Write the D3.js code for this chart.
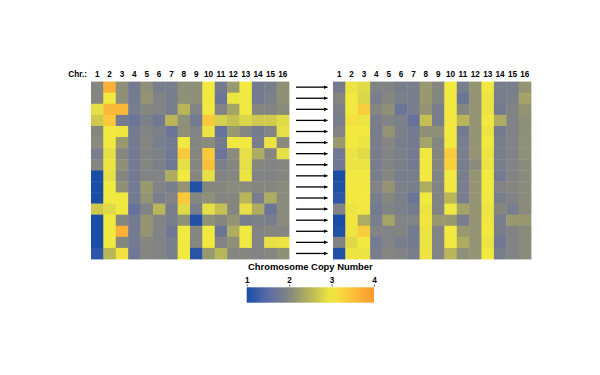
<html>
  <head>
    <style>
      body {
        margin: 0;
        background: white;
        font-family: "Liberation Sans", Arial, Helvetica, sans-serif;
      }
      svg {
        display: block;
      }
    </style>
    <script src="https://cdn.jsdelivr.net/npm/d3@7"></script>
  </head>

  <body>
    <svg id="chart"></svg>
  </body>
  <script>
    // chromosome labels along the top of both panels
    let chromosomes = ["1", "2", "3", "4", "5", "6", "7", "8", "9", "10", "11", "12", "13", "14", "15", "16"];

    // copy number per clone (row) and chromosome (column), left panel
    let beforeCN = [
      [2.0, 3.7, 2.1, 1.8, 2.1, 1.85, 1.85, 2.1, 2.1, 3.0, 1.8, 2.2, 3.0, 1.8, 1.85, 2.1],
      [2.0, 3.0, 2.1, 1.8, 2.15, 1.95, 1.85, 2.1, 2.1, 3.0, 1.7, 2.95, 3.0, 1.8, 1.9, 2.1],
      [2.9, 3.6, 3.6, 1.85, 2.0, 1.95, 1.85, 2.5, 1.95, 3.0, 1.95, 2.3, 3.0, 2.0, 1.95, 2.05],
      [2.7, 3.4, 1.8, 1.7, 1.9, 1.75, 2.5, 2.1, 1.8, 3.4, 2.75, 2.6, 2.8, 2.7, 2.7, 2.85],
      [2.0, 3.0, 3.05, 1.8, 1.95, 1.9, 1.7, 2.1, 1.95, 2.95, 1.65, 2.2, 2.0, 1.8, 1.95, 2.9],
      [2.05, 3.0, 2.2, 1.8, 2.0, 1.85, 1.8, 3.0, 2.0, 2.05, 1.8, 3.0, 3.0, 1.85, 2.95, 2.05],
      [1.85, 2.9, 2.0, 1.8, 1.95, 1.9, 1.75, 3.4, 2.0, 3.4, 1.7, 2.05, 2.9, 2.4, 2.0, 2.9],
      [2.0, 2.95, 2.1, 1.8, 2.0, 1.9, 1.75, 2.9, 2.0, 3.5, 1.9, 2.0, 2.9, 2.0, 1.95, 2.0],
      [1.0, 2.9, 2.0, 1.8, 1.95, 1.95, 2.4, 3.0, 2.0, 2.9, 1.95, 2.0, 2.95, 1.95, 1.95, 2.0],
      [1.0, 3.0, 2.1, 1.8, 2.2, 1.95, 1.85, 2.15, 1.05, 2.0, 2.0, 2.05, 2.05, 2.0, 2.0, 2.05],
      [1.0, 3.0, 3.0, 1.8, 2.15, 1.85, 1.95, 3.4, 2.0, 2.1, 2.0, 2.0, 2.5, 1.85, 2.4, 2.05],
      [2.7, 2.85, 3.0, 1.65, 1.95, 2.5, 1.85, 2.85, 1.85, 2.9, 2.6, 2.0, 2.9, 2.4, 1.7, 2.05],
      [1.0, 3.0, 2.0, 1.8, 2.15, 1.95, 1.85, 2.1, 1.05, 2.1, 2.0, 2.15, 1.85, 1.9, 1.85, 2.05],
      [1.0, 3.0, 3.7, 1.8, 2.15, 1.95, 1.75, 3.0, 2.0, 3.0, 1.7, 2.4, 3.0, 1.95, 2.0, 2.0],
      [1.0, 3.0, 2.0, 1.8, 2.0, 1.95, 1.85, 3.0, 2.0, 3.0, 1.95, 2.1, 3.0, 1.95, 2.9, 2.95],
      [1.15, 2.5, 3.1, 1.75, 2.0, 1.95, 1.85, 3.0, 1.1, 2.2, 2.5, 2.0, 2.0, 1.95, 2.0, 2.1],
    ];

    // copy number per clone and chromosome, right panel
    let afterCN = [
      [1.8, 2.95, 2.85, 1.95, 1.95, 1.85, 1.85, 2.2, 2.0, 3.0, 1.85, 2.15, 3.0, 1.85, 1.85, 2.15],
      [2.0, 3.0, 2.8, 1.85, 2.0, 1.9, 1.85, 2.2, 2.0, 3.0, 1.7, 2.15, 2.95, 1.85, 1.9, 2.3],
      [1.9, 3.0, 3.35, 2.0, 2.1, 1.7, 1.85, 2.15, 1.85, 3.0, 2.0, 2.15, 2.95, 1.8, 1.95, 2.15],
      [1.85, 3.1, 2.95, 1.85, 1.95, 1.9, 1.65, 2.6, 1.85, 3.0, 2.5, 2.15, 3.0, 2.4, 1.95, 2.1],
      [1.95, 3.0, 3.0, 1.85, 2.15, 1.9, 1.8, 2.1, 2.1, 3.0, 1.8, 2.15, 2.95, 1.8, 1.95, 2.1],
      [2.2, 3.0, 2.95, 1.85, 2.0, 1.85, 1.8, 2.3, 2.0, 3.0, 1.85, 2.15, 3.0, 1.85, 1.95, 2.1],
      [1.75, 2.95, 2.85, 1.85, 1.95, 1.9, 1.8, 3.0, 2.0, 3.35, 1.85, 2.15, 2.95, 1.85, 1.95, 2.1],
      [1.75, 2.95, 2.95, 1.85, 1.95, 1.9, 1.8, 3.0, 2.0, 3.3, 1.85, 2.05, 2.95, 1.85, 1.95, 2.05],
      [1.0, 3.0, 3.0, 1.85, 2.0, 1.85, 1.85, 3.0, 1.95, 3.0, 1.85, 2.15, 3.0, 1.8, 1.95, 2.05],
      [1.05, 3.0, 3.0, 1.95, 2.15, 1.9, 1.85, 2.4, 1.95, 3.0, 1.85, 2.15, 3.0, 1.95, 2.0, 2.05],
      [1.15, 3.0, 3.0, 1.85, 2.0, 1.9, 1.7, 3.0, 1.95, 2.5, 1.85, 2.15, 3.0, 1.85, 1.95, 2.05],
      [1.95, 2.95, 3.0, 1.8, 1.95, 1.9, 1.8, 2.95, 1.95, 3.0, 2.3, 2.15, 2.95, 2.0, 1.85, 2.05],
      [1.0, 3.05, 2.4, 1.85, 2.3, 1.95, 1.95, 3.05, 2.2, 2.2, 1.85, 2.15, 3.05, 1.85, 2.2, 2.2],
      [1.05, 2.95, 3.35, 1.95, 1.95, 1.95, 1.8, 2.95, 1.95, 3.0, 2.2, 2.15, 3.0, 1.85, 1.95, 2.05],
      [1.95, 2.85, 3.0, 1.8, 1.95, 1.85, 1.8, 2.95, 1.95, 3.0, 2.4, 2.15, 2.95, 1.75, 1.95, 2.05],
      [1.05, 2.95, 2.95, 1.85, 2.0, 1.95, 1.85, 2.95, 1.95, 2.5, 2.1, 2.15, 3.0, 1.85, 1.95, 2.05],
    ];

    let legendTicks = [1, 2, 3, 4];

    let colorStops = [1, 1.5, 2, 2.5, 3, 3.5, 4];
    let colorRange = ["#1a4ea6", "#5a6aa8", "#858680", "#b8b658", "#f2e940", "#fbc03a", "#f89a2e"];

    function getConfig() {
      let width = 600;
      let height = 375;
      let container = d3.select("#chart").attr("width", width).attr("height", height);
      let top = 81.6;
      let bottom = 259;
      let panelWidth = 198;
      let left = { x: 91 };
      let right = { x: 333 };
      return { width, height, container, top, bottom, panelWidth, left, right };
    }

    function getScales(config) {
      let { top, bottom, panelWidth } = config;
      let rows = d3.range(beforeCN.length);

      let xScale = d3.scaleBand().domain(chromosomes).range([0, panelWidth]);
      let yScale = d3.scaleBand().domain(rows).range([top, bottom]);
      let color = d3.scaleLinear().domain(colorStops).range(colorRange).clamp(true);

      return { xScale, yScale, color };
    }

    function drawPanel(data, x0, scales, config) {
      let { xScale, yScale, color } = scales;
      let g = config.container.append("g").attr("transform", `translate(${x0},0)`);

      let cells = [];
      data.forEach((row, i) => {
        row.forEach((v, j) => cells.push({ row: i, chr: chromosomes[j], value: v }));
      });

      g.selectAll(".cell")
        .data(cells)
        .enter()
        .append("rect")
        .attr("class", "cell")
        .attr("x", (d) => xScale(d.chr))
        .attr("y", (d) => yScale(d.row))
        .attr("width", xScale.bandwidth() + 0.4)
        .attr("height", yScale.bandwidth() + 0.4)
        .attr("fill", (d) => color(d.value));

      let axisTop = d3.axisTop(xScale).tickSize(0).tickPadding(0);
      g.append("g")
        .attr("transform", `translate(0,${config.top - 4.5})`)
        .call(axisTop)
        .call((a) => a.select(".domain").remove())
        .selectAll("text")
        .attr("font-size", 8.2)
        .attr("font-weight", "bold")
        .attr("font-family", "Liberation Sans, Arial, sans-serif")
        .attr("fill", "#000");
    }

    function drawArrows(scales, config) {
      let { yScale } = scales;
      let { container } = config;

      container
        .append("defs")
        .append("marker")
        .attr("id", "head")
        .attr("viewBox", "0 0 10 10")
        .attr("refX", 10)
        .attr("refY", 5)
        .attr("markerWidth", 4)
        .attr("markerHeight", 4)
        .attr("markerUnits", "userSpaceOnUse")
        .attr("orient", "auto")
        .append("path")
        .attr("d", "M0,0 L10,5 L0,10 z")
        .attr("fill", "#000");

      container
        .selectAll(".arrow")
        .data(yScale.domain())
        .enter()
        .append("line")
        .attr("class", "arrow")
        .attr("x1", 296)
        .attr("x2", 327.5)
        .attr("y1", (d) => yScale(d) + yScale.bandwidth() / 2)
        .attr("y2", (d) => yScale(d) + yScale.bandwidth() / 2)
        .attr("stroke", "#000")
        .attr("stroke-width", 1.3)
        .attr("marker-end", "url(#head)");
    }

    function drawLegend(scales, config) {
      let { color } = scales;
      let { container } = config;
      let lx = d3.scaleLinear().domain([1, 4]).range([246.7, 374]);

      let grad = container
        .select("defs")
        .append("linearGradient")
        .attr("id", "cnGrad")
        .attr("x1", "0%")
        .attr("x2", "100%");
      grad
        .selectAll("stop")
        .data(d3.range(0, 1.0001, 0.05))
        .enter()
        .append("stop")
        .attr("offset", (d) => `${d * 100}%`)
        .attr("stop-color", (d) => color(1 + d * 3));

      container
        .append("rect")
        .attr("x", lx(1))
        .attr("y", 287.3)
        .attr("width", lx(4) - lx(1))
        .attr("height", 15.4)
        .attr("fill", "url(#cnGrad)");

      let axis = d3.axisTop(lx).tickValues(legendTicks).tickSize(2).tickPadding(2).tickFormat(d3.format("d"));
      let ag = container
        .append("g")
        .attr("transform", `translate(0,286.5)`)
        .call(axis);
      ag.select(".domain").remove();
      ag.selectAll("line").attr("stroke", "#333").attr("stroke-width", 0.8);
      ag.selectAll("text")
        .attr("font-size", 8.2)
        .attr("font-weight", "bold")
        .attr("font-family", "Liberation Sans, Arial, sans-serif")
        .attr("fill", "#000");

      container
        .append("text")
        .attr("x", (lx(1) + lx(4)) / 2)
        .attr("y", 270.2)
        .attr("text-anchor", "middle")
        .attr("font-size", 9.4)
        .attr("font-weight", "bold")
        .text("Chromosome Copy Number");
    }

    function drawChart() {
      let config = getConfig();
      let scales = getScales(config);
      drawPanel(beforeCN, config.left.x, scales, config);
      drawPanel(afterCN, config.right.x, scales, config);

      config.container
        .append("text")
        .attr("x", 87)
        .attr("y", config.top - 4.5)
        .attr("text-anchor", "end")
        .attr("font-size", 8.2)
        .attr("font-weight", "bold")
        .text("Chr.:");

      drawArrows(scales, config);
      drawLegend(scales, config);
    }

    drawChart();
  </script>
</html>
